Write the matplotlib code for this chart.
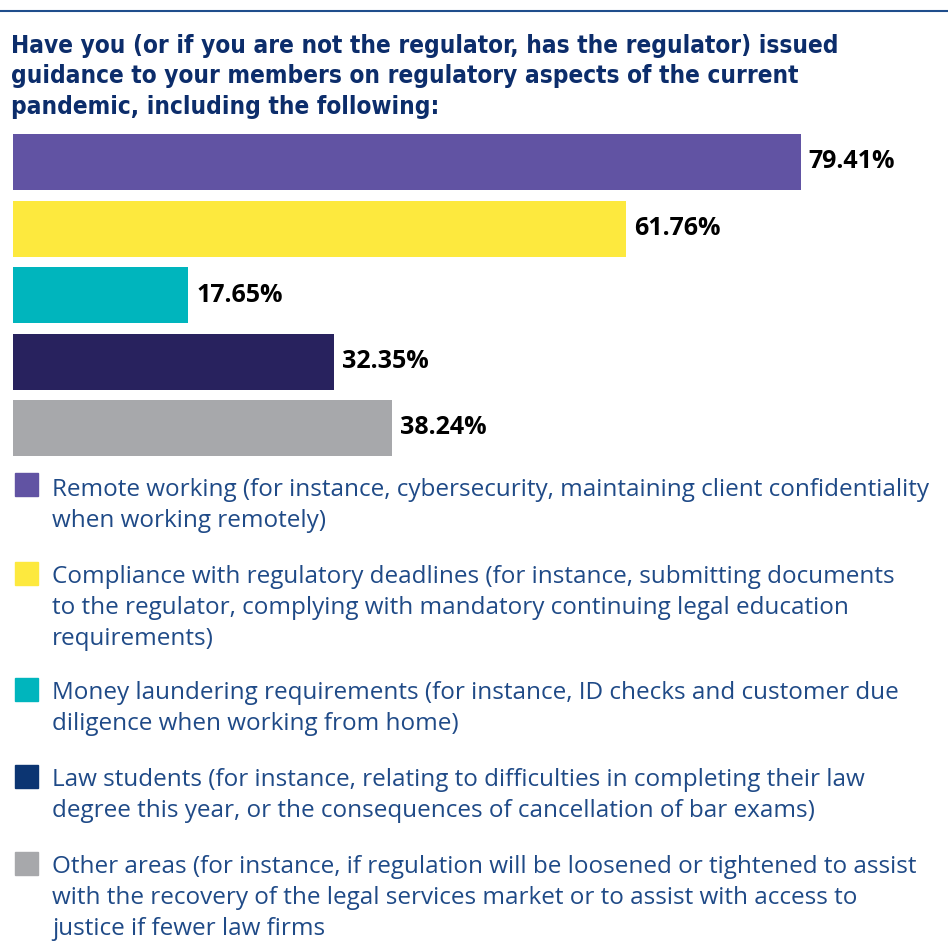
import matplotlib.pyplot as plt
from matplotlib.patches import Rectangle

# data
categories = [
    "Remote working (for instance, cybersecurity, maintaining client confidentiality\nwhen working remotely)",
    "Compliance with regulatory deadlines (for instance, submitting documents\nto the regulator, complying with mandatory continuing legal education\nrequirements)",
    "Money laundering requirements (for instance, ID checks and customer due\ndiligence when working from home)",
    "Law students (for instance, relating to difficulties in completing their law\ndegree this year, or the consequences of cancellation of bar exams)",
    "Other areas (for instance, if regulation will be loosened or tightened to assist\nwith the recovery of the legal services market or to assist with access to\njustice if fewer law firms",
]
values = [79.41, 61.76, 17.65, 32.35, 38.24]
bar_colors = ["#6153a3", "#fde93e", "#00b5bd", "#28225e", "#a7a8ab"]
legend_colors = ["#6153a3", "#fde93e", "#00b5bd", "#0c3572", "#a7a8ab"]
title = ("Have you (or if you are not the regulator, has the regulator) issued\n"
         "guidance to your members on regulatory aspects of the current\n"
         "pandemic, including the following:")

W, H = 948, 951
fig = plt.figure(figsize=(W / 100, H / 100), dpi=100)

def fx(px):
    return px / W

def fy(py):
    return 1 - py / H

# top rule
fig.add_artist(plt.Line2D([0, 1], [fy(11), fy(11)], color="#1f4e8c", lw=1.5))

fig.text(fx(11), fy(34), title, ha="left", va="top", fontsize=17.5,
         fontweight="bold", family="DejaVu Sans", stretch="condensed",
         color="#0c2d6b", linespacing=1.34)

# bars
ax = fig.add_axes([fx(13), fy(461.25), fx(893), (461.25 - 128.75) / H])
ax.barh(range(len(values)), values, height=56 / 66.5, color=bar_colors)
ax.set_xlim(0, 90)
ax.set_ylim(4.5, -0.5)
ax.axis("off")
for i, v in enumerate(values):
    ax.text(v + 0.8, i, f"{v:.2f}%", va="center", ha="left", fontsize=18,
            fontweight="bold", family="Open Sans", color="black")

# legend
tops = [473, 562, 678, 765, 852]
shift = [5, 3, 3, 3, 3]
for top, s, lab, c in zip(tops, shift, categories, legend_colors):
    fig.add_artist(Rectangle((fx(15), fy(top + 23)), fx(23), 23 / H, color=c))
    fig.text(fx(52), fy(top + s), lab, ha="left", va="top", fontsize=17.5,
             family="Open Sans", color="#1f4a87", linespacing=1.4)

fig.savefig("out.png", dpi=100)
